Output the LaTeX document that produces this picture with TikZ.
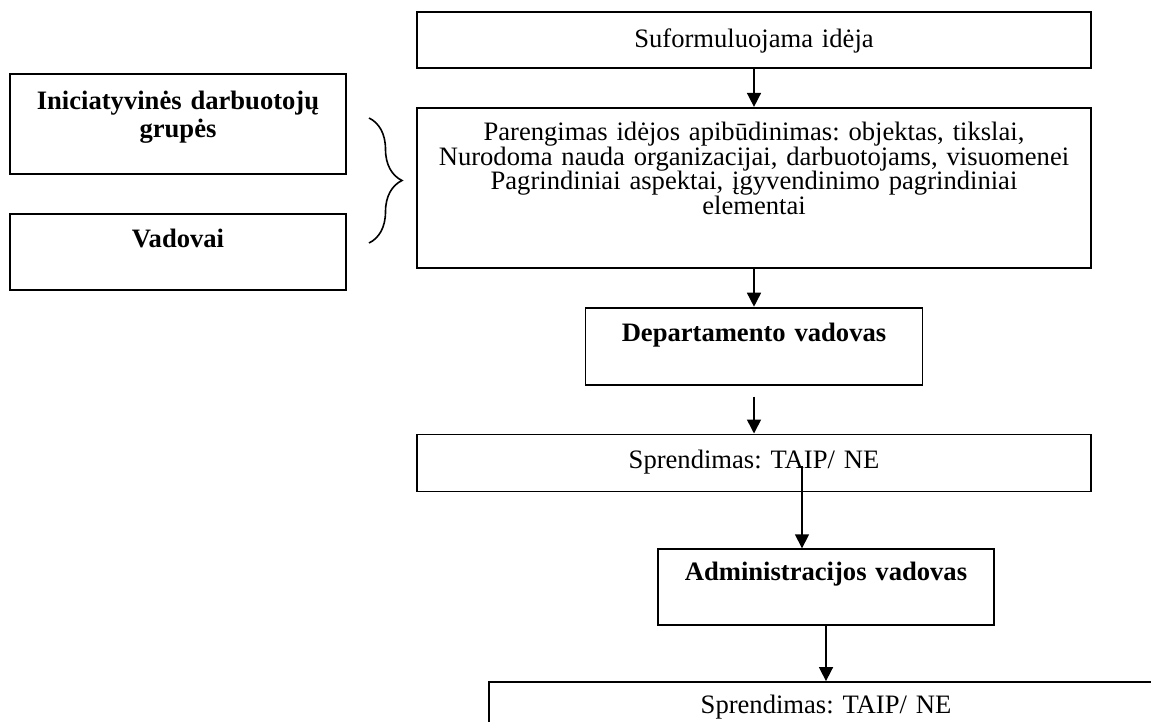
\documentclass[tikz,border=0pt]{standalone}
\usepackage{fontspec}
\setmainfont{Liberation Serif}
\usetikzlibrary{arrows.meta,positioning,decorations.pathreplacing}
\frenchspacing

\begin{document}
\begin{tikzpicture}[
  x=0.5pt, y=-0.5pt,
  font=\fontsize{13.3}{12.25}\selectfont,
  box/.style={draw=black, rectangle, line width=0.9pt, inner sep=0pt, align=center},
  wide/.style={box, text width=337pt},
  narrow/.style={box, text width=168pt},
  arrow/.style={-{Triangle[length=7pt, width=7pt]}, line width=0.8pt},
]
  \useasboundingbox (0,0) rectangle (1151,722);
  \clip (0,0) rectangle (1151,722);

  % main column
  \node[wide, text height=18pt, text depth=10pt] (idea) at (754,40) {Suformuluojama idėja};
  \node[wide, text height=16.5pt, text depth=63.5pt, below=19pt of idea] (desc)
    {Parengimas idėjos apibūdinimas: objektas, tikslai,\\Nurodoma nauda organizacijai, darbuotojams, visuomenei\\Pagrindiniai aspektai, įgyvendinimo pagrindiniai\\elementai};
  \node[narrow, text width=168.5pt, text height=17pt, text depth=21.5pt, below=19pt of desc] (dept) {\bfseries Departamento vadovas};
  \node[wide, text height=17pt, text depth=11.5pt, below=24pt of dept] (decide1) {Sprendimas: TAIP/ NE};
  \node[narrow, text height=15.5pt, text depth=22.5pt, below=28pt of decide1, xshift=36pt] (admin) {\bfseries Administracijos vadovas};
  \node[wide, text height=15.5pt, text depth=12pt, below=27.5pt of admin] (decide2) {Sprendimas: TAIP/ NE};

  % initiators on the left
  \node[narrow, text height=18pt, text depth=32pt] (group) at (178,124) {\bfseries Iniciatyvinės darbuotojų\\[1.75pt]\bfseries grupės};
  \node[narrow, text height=17pt, text depth=21pt, below=19pt of group] (heads) {\bfseries Vadovai};

  \coordinate (bracetop) at (369,118);
  \coordinate (bracebot) at (369,243);
  \draw[decorate, decoration={brace, amplitude=16.5pt}, line width=0.8pt] (bracetop) -- (bracebot);

  \draw[arrow] (idea) -- (desc);
  \draw[arrow] (desc) -- (dept);
  \draw[arrow] ([yshift=-5.5pt]dept.south) -- (decide1.north);
  \coordinate (split) at (802,466);
  \draw[arrow] (split) -- (split |- admin.north);
  \draw[arrow] (admin) -- (decide2);
\end{tikzpicture}
\end{document}
